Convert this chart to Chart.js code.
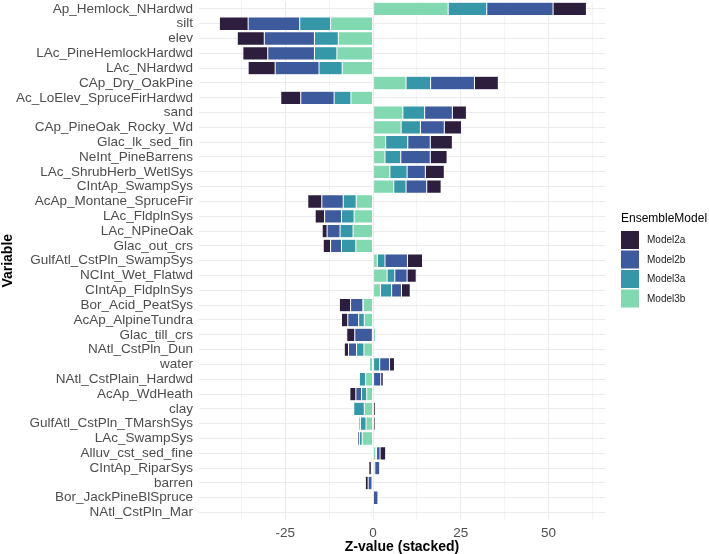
<!DOCTYPE html>
<html>
<head>
<meta charset="utf-8">
<script src="https://cdn.jsdelivr.net/npm/chart.js@4.4.1/dist/chart.umd.min.js"></script>
<style>
  html, body { margin: 0; padding: 0; background: #ffffff; }
  #wrap { position: relative; width: 709px; height: 554px; }
  canvas { display: block; }
</style>
</head>
<body>
<div id="wrap"><canvas id="c" width="709" height="554"></canvas></div>
<script>
// ---- data ----
const categories = [
  "Ap_Hemlock_NHardwd", "silt", "elev", "LAc_PineHemlockHardwd", "LAc_NHardwd",
  "CAp_Dry_OakPine", "Ac_LoElev_SpruceFirHardwd", "sand", "CAp_PineOak_Rocky_Wd",
  "Glac_lk_sed_fin", "NeInt_PineBarrens", "LAc_ShrubHerb_WetlSys", "CIntAp_SwampSys",
  "AcAp_Montane_SpruceFir", "LAc_FldplnSys", "LAc_NPineOak", "Glac_out_crs",
  "GulfAtl_CstPln_SwampSys", "NCInt_Wet_Flatwd", "CIntAp_FldplnSys", "Bor_Acid_PeatSys",
  "AcAp_AlpineTundra", "Glac_till_crs", "NAtl_CstPln_Dun", "water", "NAtl_CstPlain_Hardwd",
  "AcAp_WdHeath", "clay", "GulfAtl_CstPln_TMarshSys", "LAc_SwampSys", "Alluv_cst_sed_fine",
  "CIntAp_RiparSys", "barren", "Bor_JackPineBlSpruce", "NAtl_CstPln_Mar"
];
const model2a = [ 9.5, -8.2, -7.7, -7.1, -7.7, 6.8, -5.7, 4.0, 4.9, 6.3, 4.8, 5.4, 4.1,
  -4.0, -2.7, -1.4, -2.1, 4.3, 2.6, 2.5, -3.2, -1.8, -2.3, -1.2, 1.4, 0.7,
  -1.7, 0.5, 0.6, 0.0, 1.6, -0.7, -0.8, 0.0, 0.0 ];
const model2b = [ 18.9, -14.7, -14.3, -13.3, -12.5, 12.5, -9.5, 7.9, 6.8, 6.4, 8.4, 5.2, 5.9,
  -6.1, -4.8, -3.7, -3.1, 6.4, 3.5, 2.8, -3.5, -3.1, -5.0, -2.3, 2.8, 2.2,
  -1.6, 0.2, -0.4, -0.5, 1.0, 1.4, -1.1, 1.3, 0.0 ];
const model3a = [ 11.0, -8.8, -6.8, -6.4, -6.6, 7.0, -4.8, 6.2, 5.5, 6.3, 4.5, 4.9, 3.5,
  -3.7, -3.6, -3.7, -4.1, 2.2, 2.2, 3.2, -0.1, -1.6, -0.2, -2.1, 1.9, -1.8,
  -1.5, -3.0, -1.6, -0.8, 0.2, 0.5, -0.1, 0.0, 0.0 ];
const model3b = [ 21.4, -12.1, -9.9, -10.3, -8.8, 9.4, -6.3, 8.5, 8.0, 3.6, 3.4, 4.8, 5.9,
  -4.8, -5.4, -5.7, -4.9, 1.2, 4.0, 2.1, -2.8, -2.5, 0.7, -2.6, -1.0, -2.1,
  -1.8, -2.5, -2.0, -3.1, 0.8, -0.5, -0.2, 0.1, -0.5 ];
const xTickLabels = [-25, 0, 25, 50];
const xGridValues = [-37.5, -25, -12.5, 0, 12.5, 25, 37.5, 50, 62.5];
const seriesNames = ["Model2a", "Model2b", "Model3a", "Model3b"];

// ---- styles ----
const colors = { Model2a: "#2d1e3e", Model2b: "#3d5a9c", Model3a: "#3597a8", Model3b: "#82d8b1" };
const FONT = "'Liberation Sans', Arial, Helvetica, sans-serif";

function ds(name, data) {
  return {
    label: name, data: data, backgroundColor: colors[name],
    borderColor: "#ffffff", borderWidth: 0.5, borderSkipped: false,
    categoryPercentage: 0.9, barPercentage: 1.0
  };
}

const legendPlugin = {
  id: "ggLegend",
  afterDraw(chart) {
    const ctx = chart.ctx;
    ctx.save();
    ctx.fillStyle = "#000000";
    ctx.font = "12px " + FONT;
    ctx.textAlign = "left";
    ctx.textBaseline = "middle";
    ctx.fillText("EnsembleModel", 621, 219);
    ctx.font = "10px " + FONT;
    seriesNames.forEach((n, i) => {
      const top = 231 + i * 19.5;
      ctx.fillStyle = colors[n];
      ctx.fillRect(621, top, 18, 18);
      ctx.fillStyle = "#1a1a1a";
      ctx.fillText(n, 647, top + 9.5);
    });
    ctx.restore();
  }
};

new Chart(document.getElementById("c"), {
  type: "bar",
  data: {
    labels: categories,
    datasets: [ds("Model3b", model3b), ds("Model3a", model3a), ds("Model2b", model2b), ds("Model2a", model2a)]
  },
  options: {
    indexAxis: "y",
    responsive: false,
    animation: false,
    layout: { padding: { top: 1.5, right: 104, bottom: 0, left: 0 } },
    plugins: { legend: { display: false }, tooltip: { enabled: false } },
    scales: {
      x: {
        type: "linear", stacked: true, min: -49.6, max: 66.1,
        afterBuildTicks(scale) { scale.ticks = xGridValues.map(v => ({ value: v })); },
        afterFit(scale) { scale.height = 34; scale.paddingLeft = 0; scale.paddingRight = 0; },
        border: { display: false },
        grid: {
          drawTicks: false,
          color: "#ebebeb",
          lineWidth: (c) => (c.tick && xTickLabels.includes(c.tick.value)) ? 1.1 : 0.55
        },
        ticks: {
          padding: 5, color: "#4d4d4d", font: { family: FONT, size: 13.5 },
          maxRotation: 0, autoSkip: false,
          callback: (v) => xTickLabels.includes(v) ? String(v) : ""
        },
        title: {
          display: true, text: "Z-value (stacked)", color: "#000000",
          font: { family: FONT, size: 14, weight: "bold", lineHeight: 1 },
          padding: { top: 0, bottom: 0 }
        }
      },
      y: {
        type: "category", stacked: true, offset: true,
        afterFit(scale) { scale.width = 199; scale.paddingTop = 0; scale.paddingBottom = 0; },
        border: { display: false },
        grid: { offset: false, drawTicks: false, color: "#ebebeb", lineWidth: 1.1 },
        ticks: {
          padding: 6, color: "#4d4d4d", autoSkip: false,
          font: { family: FONT, size: 13.5 }
        },
        title: {
          display: true, text: "Variable", color: "#000000",
          font: { family: FONT, size: 14, weight: "bold", lineHeight: 1.2 },
          padding: { top: 0, bottom: 0 }
        }
      }
    }
  },
  plugins: [legendPlugin]
});
</script>
</body>
</html>
